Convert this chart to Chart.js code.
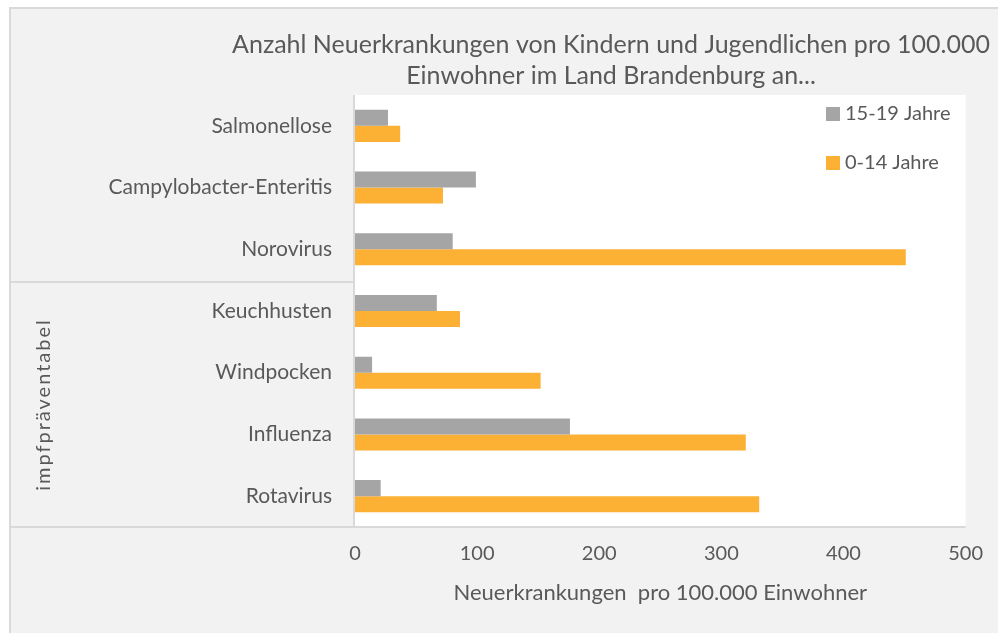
<!DOCTYPE html>
<html>
<head>
<meta charset="utf-8">
<script src="https://cdn.jsdelivr.net/npm/chart.js@4"></script>
<style>
  body { margin: 0; background: #ffffff; }
  #wrap { width: 998px; height: 633px; }
</style>
</head>
<body>
<div id="wrap"><canvas id="myBarChart" width="998" height="633"></canvas></div>
<script>
// Data: Krankheiten und Neuerkrankungen pro 100.000 Einwohner
const categories = ["Salmonellose", "Campylobacter-Enteritis", "Norovirus", "Keuchhusten", "Windpocken", "Influenza", "Rotavirus"];
const teens = [27, 99, 80, 67, 14, 176, 21];      // 15-19 Jahre
const children = [37, 72, 451, 86, 152, 320, 331]; // 0-14 Jahre
const xTicks = [0, 100, 200, 300, 400, 500];
const titleLines = ["Anzahl Neuerkrankungen von Kindern und Jugendlichen pro 100.000", "Einwohner im Land Brandenburg an..."];
const groupLabel = "impfpräventabel";
const groupStart = 3; // erste Kategorie der Gruppe

const FONT = "Lato";
const TEXT = "#595959";
const LINE = "#d9d9d9";

// Hintergrund, Rahmen, Titel, Gruppenbeschriftung, Legende
const decor = {
    id: 'decor',
    beforeDraw(chart) {
        const ctx = chart.ctx;
        const a = chart.chartArea;
        ctx.save();
        ctx.fillStyle = "#ffffff";
        ctx.fillRect(0, 0, chart.width, chart.height);
        ctx.fillStyle = "#f2f2f2";
        ctx.fillRect(10, 8, chart.width, chart.height);
        ctx.strokeStyle = LINE;
        ctx.lineWidth = 2;
        ctx.beginPath();
        ctx.moveTo(10, chart.height + 2);
        ctx.lineTo(10, 8);
        ctx.lineTo(chart.width + 2, 8);
        ctx.stroke();
        ctx.fillStyle = "#ffffff";
        ctx.fillRect(a.left, a.top, a.right - a.left, a.bottom - a.top);
        ctx.restore();
    },
    afterDraw(chart) {
        const ctx = chart.ctx;
        const a = chart.chartArea;
        const y = chart.scales.y;
        ctx.save();
        // Linien der Kategorieachse
        const sepY = Math.round(y.getPixelForValue(groupStart - 0.5)) + 2;
        ctx.strokeStyle = LINE;
        ctx.lineWidth = 2;
        ctx.beginPath();
        ctx.moveTo(10, sepY); ctx.lineTo(a.left, sepY);
        ctx.moveTo(10, a.bottom); ctx.lineTo(a.right, a.bottom);
        ctx.moveTo(a.left - 1, a.top); ctx.lineTo(a.left - 1, a.bottom);
        ctx.stroke();

        // Gruppenbeschriftung
        ctx.fillStyle = TEXT;
        ctx.font = "20px " + FONT;
        ctx.letterSpacing = "2px";
        ctx.textAlign = "center";
        ctx.textBaseline = "middle";
        ctx.translate(44, (sepY + a.bottom) / 2);
        ctx.rotate(-Math.PI / 2);
        ctx.fillText(groupLabel, 0, 0);
        ctx.setTransform(1, 0, 0, 1, 0, 0);
        ctx.letterSpacing = "0px";

        // Titel
        ctx.font = "25px " + FONT;
        ctx.fillText(titleLines[0], 611, 45);
        ctx.fillText(titleLines[1], 611, 76);

        // Legende
        const ds = chart.data.datasets;
        ctx.font = "20px " + FONT;
        ctx.textAlign = "left";
        ds.forEach((d, i) => {
            const ly = 114 + i * 49;
            ctx.fillStyle = d.backgroundColor;
            ctx.fillRect(826, ly - 7, 14, 14);
            ctx.fillStyle = TEXT;
            ctx.fillText(d.label, 845, ly);
        });
        ctx.restore();
    }
};

const cv = document.getElementById("myBarChart").getContext('2d');
const myBarChart = new Chart(cv, {
    type: 'bar',
    data: {
        labels: categories,
        datasets: [{
            label: "15-19 Jahre",
            backgroundColor: "#a5a5a5",
            data: teens,
        }, {
            label: "0-14 Jahre",
            backgroundColor: "#fcb034",
            data: children,
        }],
    },
    options: {
        indexAxis: 'y',
        responsive: false,
        animation: false,
        layout: {
            padding: { top: 95, right: 31, left: 0, bottom: 0 }
        },
        datasets: {
            bar: { categoryPercentage: 0.52, barPercentage: 1.0 }
        },
        scales: {
            x: {
                min: 0,
                max: 500,
                afterFit(scale) { scale.height = 106; },
                afterBuildTicks(scale) { scale.ticks = xTicks.map(v => ({ value: v })); },
                grid: { display: false, drawTicks: false },
                border: { display: false },
                ticks: {
                    color: TEXT,
                    padding: 15,
                    font: { family: FONT, size: 20 }
                },
                title: {
                    display: true,
                    text: 'Neuerkrankungen  pro 100.000 Einwohner',
                    color: TEXT,
                    font: { family: FONT, size: 22 },
                    padding: { top: 0, bottom: 27 }
                }
            },
            y: {
                afterFit(scale) { scale.width = 355; },
                grid: { display: false, drawTicks: false },
                border: { display: false },
                ticks: {
                    color: TEXT,
                    padding: 23,
                    font: { family: FONT, size: 21 }
                }
            },
        },
        plugins: {
            legend: { display: false },
            title: { display: false },
            tooltip: { enabled: false }
        }
    },
    plugins: [decor]
});
</script>
</body>
</html>
